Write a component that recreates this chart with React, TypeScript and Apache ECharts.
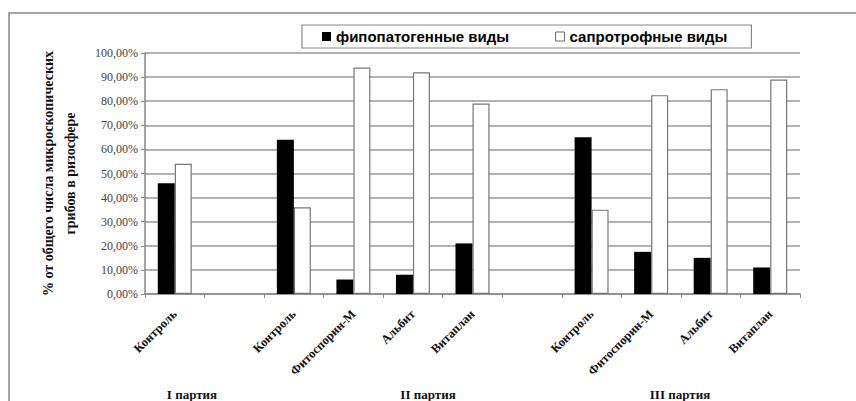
import React, { useEffect, useRef } from "react";
import * as echarts from "echarts";

const categories = [
  "Контроль",
  "",
  "Контроль",
  "Фитоспорин-М",
  "Альбит",
  "Витаплан",
  "",
  "Контроль",
  "Фитоспорин-М",
  "Альбит",
  "Витаплан",
];
const phytoName = "фипопатогенные виды";
const saproName = "сапротрофные виды";
const phyto = [46, null, 64, 6, 8, 21, null, 65, 17.5, 15, 11];
const sapro = [54, null, 36, 94, 92, 79, null, 35, 82.5, 85, 89];
const yTicks = { min: 0, max: 100, interval: 10 };
const groupLabels = [
  { text: "I партия", x: 192 },
  { text: "II партия", x: 428 },
  { text: "III партия", x: 680 },
];
const yTitle = "% от общего числа микроскопических\nгрибов в ризосфере";

export default function App() {
  const ref = useRef<HTMLDivElement>(null);
  useEffect(() => {
    document.body.style.margin = "0";
    const chart = echarts.init(ref.current!, null, { renderer: "svg" });
    const serif = "'Liberation Serif', 'Times New Roman', serif";
    chart.setOption({
      animation: false,
      backgroundColor: "#fff",
      grid: { left: 145, right: 56, top: 53, bottom: 107 },
      legend: {
        top: 25,
        left: 302,
        itemWidth: 9,
        itemHeight: 9,
        itemGap: 46,
        padding: [4, 24, 4, 20],
        borderColor: "#888",
        borderWidth: 1.2,
        icon: "rect",
        textStyle: {
          fontFamily: "'Liberation Sans', Arial, sans-serif",
          fontWeight: "bold",
          fontSize: 15,
          color: "#000",
        },
        data: [
          { name: phytoName, itemStyle: { color: "#000", borderColor: "#000" } },
          { name: saproName, itemStyle: { color: "#fff", borderColor: "#666", borderWidth: 1 } },
        ],
      },
      xAxis: {
        type: "category",
        data: categories,
        boundaryGap: true,
        axisLine: { lineStyle: { color: "#888", width: 1.5 } },
        axisTick: { show: true, alignWithLabel: false, length: 4, lineStyle: { color: "#888" } },
        axisLabel: {
          interval: 0,
          rotate: 45,
          margin: 18,
          fontFamily: serif,
          fontWeight: "bold",
          fontSize: 12.5,
          color: "#111",
        },
      },
      yAxis: {
        type: "value",
        min: yTicks.min,
        max: yTicks.max,
        interval: yTicks.interval,
        name: yTitle,
        nameLocation: "middle",
        nameRotate: 90,
        nameGap: 64,
        nameTextStyle: {
          fontFamily: serif,
          fontWeight: "bold",
          fontSize: 14,
          lineHeight: 22,
          color: "#111",
        },
        axisLine: { show: true, lineStyle: { color: "#888", width: 1.5 } },
        axisTick: { show: true, length: 4, lineStyle: { color: "#888" } },
        splitLine: { lineStyle: { color: "#999", width: 1.5 } },
        axisLabel: {
          margin: 7,
          fontFamily: serif,
          fontSize: 12,
          color: "#444",
          formatter: (v: number) => v.toFixed(2).replace(".", ",") + "%",
        },
      },
      series: [
        {
          name: phytoName,
          type: "bar",
          data: phyto,
          barWidth: 17,
          barGap: "0%",
          itemStyle: { color: "#000", borderColor: "#000", borderWidth: 0 },
        },
        {
          name: saproName,
          type: "bar",
          data: sapro,
          barWidth: 17,
          barGap: "0%",
          itemStyle: { color: "#fff", borderColor: "#777", borderWidth: 1.2 },
        },
      ],
      graphic: [
        {
          type: "rect",
          shape: { x: 9, y: 13, width: 900, height: 420 },
          style: { fill: "none", stroke: "#888", lineWidth: 1.5 },
          silent: true,
          z: -1,
        },
        ...groupLabels.map((g) => ({
          type: "text",
          x: g.x,
          y: 394,
          style: {
            text: g.text,
            fontFamily: serif,
            fontWeight: "bold",
            fontSize: 13,
            fill: "#111",
            textAlign: "center",
            textVerticalAlign: "middle",
          },
        })),
      ],
    });
    return () => chart.dispose();
  }, []);
  return <div ref={ref} style={{ width: 856, height: 401 }} />;
}
